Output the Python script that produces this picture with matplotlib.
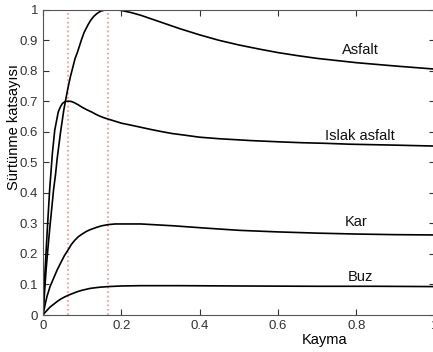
import matplotlib
matplotlib.use('Agg')
import matplotlib.pyplot as plt

# values
asfalt_x = [0, 0.004, 0.008, 0.012, 0.017, 0.022, 0.027, 0.032, 0.036, 0.04, 0.045, 0.049,
            0.053, 0.058, 0.064, 0.07, 0.077, 0.082, 0.088, 0.093, 0.098, 0.105, 0.115,
            0.122, 0.13, 0.138, 0.148, 0.158, 0.168, 0.185, 0.2, 0.225, 0.25, 0.275, 0.3,
            0.35, 0.4, 0.45, 0.5, 0.55, 0.6, 0.65, 0.7, 0.75, 0.8, 0.9, 1.0]
asfalt_y = [0, 0.075, 0.15, 0.21, 0.28, 0.345, 0.41, 0.46, 0.51, 0.55, 0.6, 0.635,
            0.67, 0.705, 0.745, 0.78, 0.815, 0.84, 0.86, 0.88, 0.9, 0.925, 0.95,
            0.965, 0.978, 0.987, 0.995, 0.998, 1.0, 0.999, 0.997, 0.99, 0.981, 0.97, 0.959,
            0.937, 0.917, 0.899, 0.884, 0.871, 0.859, 0.849, 0.84, 0.833, 0.826, 0.815, 0.805]

islak_x = [0, 0.005, 0.011, 0.017, 0.024, 0.03, 0.039, 0.045, 0.05, 0.057, 0.064, 0.072,
           0.08, 0.09, 0.1, 0.11, 0.125, 0.135, 0.145, 0.155, 0.167, 0.185, 0.2, 0.23,
           0.273, 0.3, 0.33, 0.36, 0.4, 0.45, 0.53, 0.6, 0.66, 0.72, 0.785, 0.9, 1.0]
islak_y = [0, 0.14, 0.28, 0.41, 0.53, 0.605, 0.665, 0.683, 0.693, 0.699, 0.70, 0.699,
           0.695, 0.688, 0.68, 0.673, 0.664, 0.657, 0.651, 0.646, 0.641, 0.634, 0.628, 0.62,
           0.608, 0.601, 0.594, 0.589, 0.582, 0.577, 0.571, 0.567, 0.564, 0.562, 0.559, 0.556, 0.553]

kar_x = [0, 0.005, 0.01, 0.018, 0.027, 0.036, 0.045, 0.055, 0.065, 0.072, 0.08, 0.09,
         0.1, 0.11, 0.12, 0.137, 0.15, 0.167, 0.185, 0.2, 0.25, 0.333, 0.42, 0.503,
         0.6, 0.7, 0.8, 0.9, 1.0]
kar_y = [0, 0.032, 0.06, 0.093, 0.12, 0.147, 0.17, 0.195, 0.215, 0.23, 0.243, 0.256,
         0.265, 0.273, 0.279, 0.287, 0.292, 0.296, 0.298, 0.298, 0.298, 0.292, 0.284, 0.277,
         0.272, 0.268, 0.265, 0.263, 0.262]

buz_x = [0, 0.005, 0.01, 0.018, 0.027, 0.036, 0.045, 0.055, 0.065, 0.075, 0.085, 0.092,
         0.1, 0.11, 0.12, 0.132, 0.145, 0.167, 0.2, 0.25, 0.35, 0.5, 0.7, 0.85, 1.0]
buz_y = [0, 0.008, 0.015, 0.026, 0.035, 0.044, 0.052, 0.059, 0.065, 0.07, 0.075, 0.078,
         0.081, 0.084, 0.087, 0.089, 0.091, 0.093, 0.095, 0.096, 0.096, 0.095, 0.094, 0.094, 0.093]

peak_slips = [0.064, 0.167]

labels = ['Asfalt', 'Islak asfalt', 'Kar', 'Buz']
label_x = [0.81, 0.81, 0.80, 0.81]
label_y = [0.867, 0.587, 0.303, 0.125]

x_ticks = [0, 0.2, 0.4, 0.6, 0.8, 1]
x_tick_labels = ['0', '0.2', '0.4', '0.6', '0.8', '1']
y_ticks = [0, 0.1, 0.2, 0.3, 0.4, 0.5, 0.6, 0.7, 0.8, 0.9, 1]
y_tick_labels = ['0', '0.1', '0.2', '0.3', '0.4', '0.5', '0.6', '0.7', '0.8', '0.9', '1']

plt.rcParams['font.family'] = ['Liberation Sans', 'DejaVu Sans']

fig = plt.figure(figsize=(4.33, 3.52), dpi=100)
ax = fig.add_axes([43 / 433, 37 / 352, 391.5 / 433, 305.5 / 352])

for s in peak_slips:
    ax.axvline(s, color='#ff8c8c', linestyle=':', linewidth=1.2)

for xs, ys in [(asfalt_x, asfalt_y), (islak_x, islak_y), (kar_x, kar_y), (buz_x, buz_y)]:
    ax.plot(xs, ys, color='black', linewidth=1.2)

for t, tx, ty in zip(labels, label_x, label_y):
    ax.text(tx, ty, t, ha='center', va='center', fontsize=10.5, color='#111111')

ax.set_xlim(0, 1)
ax.set_ylim(0, 1)
ax.set_xticks(x_ticks)
ax.set_xticklabels(x_tick_labels)
ax.set_yticks(y_ticks)
ax.set_yticklabels(y_tick_labels)
ax.tick_params(direction='in', top=True, right=True, labelsize=9.5,
               colors='#333333', length=4, width=0.8)
for sp in ax.spines.values():
    sp.set_color('#555555')
    sp.set_linewidth(0.8)

ax.set_xlabel('Kayma', fontsize=10.5)
ax.xaxis.set_label_coords(0.718, -0.058)
ax.set_ylabel('Sürtünme katsayısı', fontsize=10.5)
ax.yaxis.set_label_coords(-0.057, 0.615)

fig.savefig('out.png', dpi=100)
